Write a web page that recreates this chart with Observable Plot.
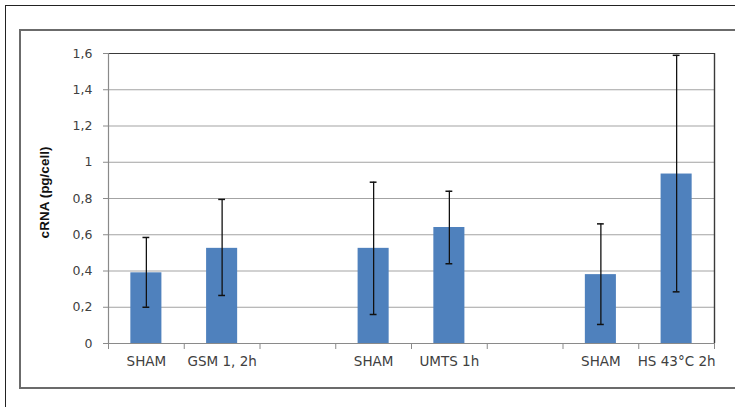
<!DOCTYPE html>
<html>
<head>
<meta charset="utf-8">
<script src="https://cdn.jsdelivr.net/npm/d3@7"></script>
<script src="https://cdn.jsdelivr.net/npm/@observablehq/plot@0.6"></script>
<style>
  html, body { margin: 0; padding: 0; background: #fff; overflow: hidden; width: 735px; height: 407px; }
  #outer { position: absolute; left: 5px; top: 5px; width: 800px; height: 500px; border: 1.5px solid #222; }
  #inner { position: absolute; left: 19px; top: 29px; width: 800px; height: 356px; border: 2px solid #6b6b6b; }
  #chart { position: absolute; left: 0; top: 0; }
</style>
</head>
<body>
<div id="outer"></div>
<div id="inner"></div>
<div id="chart"></div>
<script>
const categories = ["SHAM", "GSM 1, 2h", "", "SHAM", "UMTS 1h", "", "SHAM", "HS 43°C 2h"];
const means   = [0.39, 0.525, null, 0.525, 0.64, null, 0.38, 0.935];
const errLow  = [0.20, 0.265, null, 0.16, 0.44, null, 0.105, 0.285];
const errHigh = [0.585, 0.795, null, 0.89, 0.84, null, 0.66, 1.59];
const yTicks = [0, 0.2, 0.4, 0.6, 0.8, 1, 1.2, 1.4, 1.6];
const yLabel = "cRNA (pg/cell)";

const slots = categories.map((label, i) => ({i, label, mean: means[i], lo: errLow[i], hi: errHigh[i]}));
const bars = slots.filter(d => d.mean != null);
const barHalf = 0.205;
const capHalf = 0.045;
const font = "DejaVu Sans";

const chart = Plot.plot({
  width: 735,
  height: 407,
  marginLeft: 108,
  marginRight: 21,
  marginTop: 53,
  marginBottom: 64,
  style: {background: "transparent", fontFamily: font},
  x: {type: "linear", domain: [0, categories.length], axis: null},
  y: {domain: [0, 1.6], axis: null},
  marks: [
    Plot.ruleY(yTicks.filter(t => t > 0 && t < 1.6), {stroke: "#a3a3a3", strokeWidth: 1}),
    Plot.ruleY([1.6], {stroke: "#3a3a3a", strokeWidth: 1.2}),
    Plot.rectY(bars, {x1: d => d.i + 0.5 - barHalf, x2: d => d.i + 0.5 + barHalf, y1: 0, y2: "mean", fill: "#4f81bd"}),
    Plot.ruleY([0], {stroke: "#8a8a8a", strokeWidth: 1.2}),
    Plot.ruleX([0], {y1: 0, y2: 1.6, stroke: "#8a8a8a", strokeWidth: 1.2}),
    Plot.ruleX([categories.length], {y1: 0, y2: 1.6, stroke: "#3a3a3a", strokeWidth: 1.4}),
    Plot.axisX({ticks: d3.range(categories.length + 1), tickSize: 6, tickFormat: () => "", stroke: "#8a8a8a"}),
    Plot.axisY({ticks: yTicks, tickSize: 5, tickPadding: 11, tickFormat: d => String(d).replace(".", ","),
      stroke: "#8a8a8a", fill: "#404040", fontSize: 12.5, fontFamily: font}),
    Plot.text(slots, {x: d => d.i + 0.5, text: "label", frameAnchor: "bottom", dy: 22,
      fill: "#404040", fontSize: 13.5, fontFamily: font}),
    Plot.text([yLabel], {frameAnchor: "left", textAnchor: "middle", rotate: -90, dx: -64, dy: -6, text: d => d,
      fontWeight: "bold", fontSize: 13.5, fontFamily: "Liberation Sans", fill: "#111"}),
    Plot.ruleX(bars, {x: d => d.i + 0.5, y1: "lo", y2: "hi", stroke: "#111", strokeWidth: 1.3}),
    Plot.ruleY(bars, {y: "hi", x1: d => d.i + 0.5 - capHalf, x2: d => d.i + 0.5 + capHalf, stroke: "#111", strokeWidth: 1.5}),
    Plot.ruleY(bars, {y: "lo", x1: d => d.i + 0.5 - capHalf, x2: d => d.i + 0.5 + capHalf, stroke: "#111", strokeWidth: 1.5})
  ]
});
document.getElementById("chart").appendChild(chart);
</script>
</body>
</html>
